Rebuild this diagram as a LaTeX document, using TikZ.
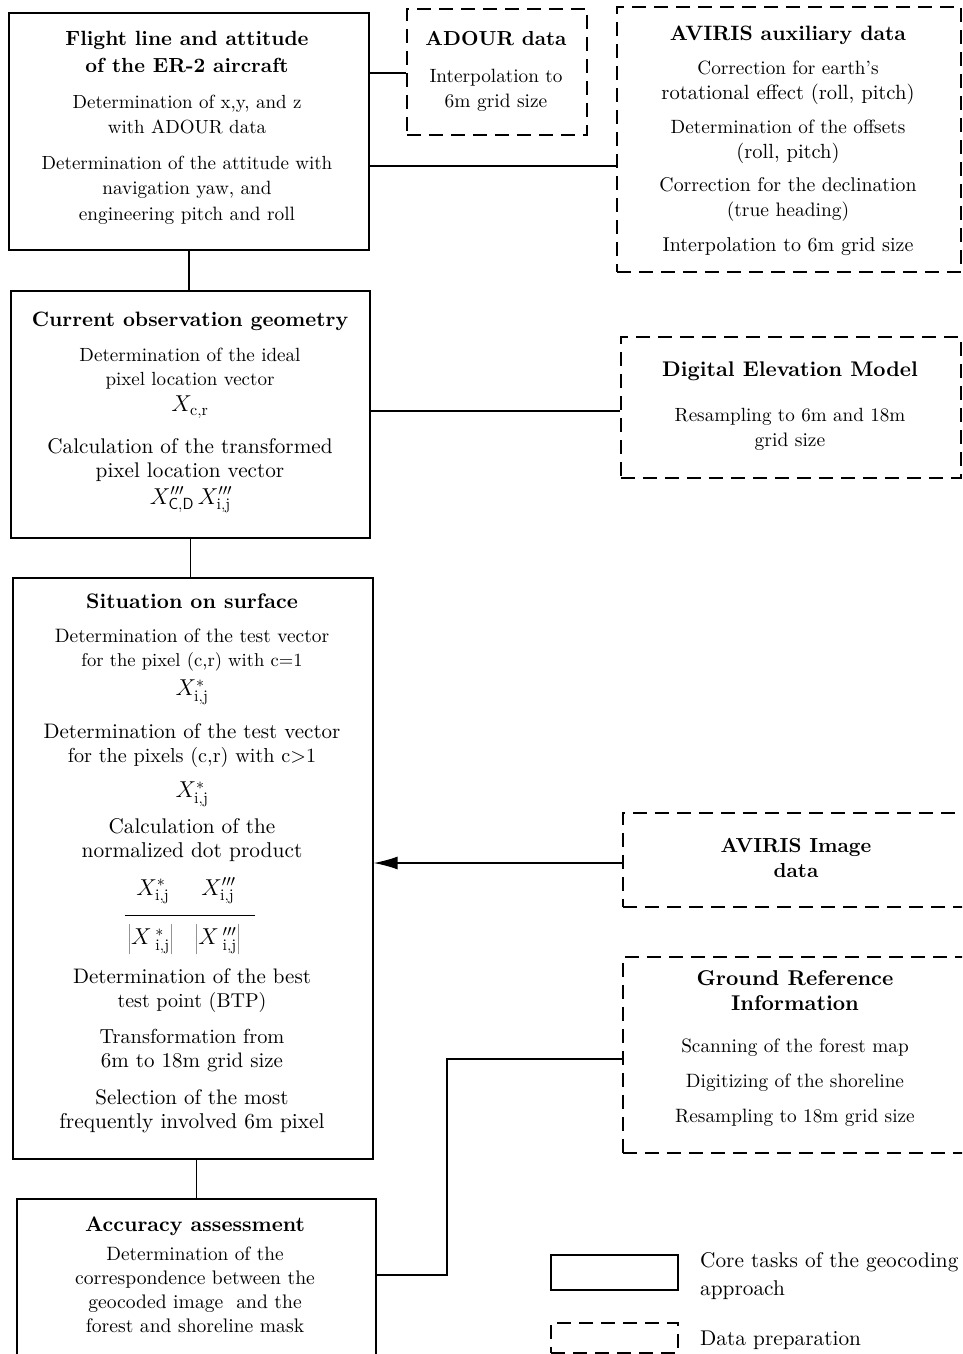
\documentclass[tikz,border=0pt]{standalone}
\usepackage{fix-cm}
\usepackage{fontspec}
\setmainfont{lmroman10-regular.otf}[BoldFont=lmroman10-bold.otf, ItalicFont=lmroman10-italic.otf, BoldItalicFont=lmroman10-bolditalic.otf]
\usetikzlibrary{arrows.meta}
\tikzset{
  core/.style={draw, line width=1.6pt, anchor=north west, inner sep=0pt},
  prep/.style={draw, line width=1.6pt, dash pattern=on 14pt off 8pt, anchor=north west, inner sep=0pt},
  conn/.style={line width=1.4pt},
  body/.style={inner sep=0pt, text height=13pt, text depth=4pt},
  head/.style={font=\bfseries, inner sep=0pt, text height=14.5pt, text depth=4.5pt},
  frm/.style={font=\fontsize{23}{27}\selectfont, inner sep=0pt},
  legtxt/.style={font=\fontsize{21.3}{25}\selectfont, inner sep=0pt, anchor=west, text height=14pt, text depth=4pt},
}
\newcommand\mylines[4]{%
  \foreach \yy/\ss/\txt [count=\ii] in {#4} {\node[#3] (#1\ii) at (#2,\yy) {\fontsize{\ss}{\ss}\selectfont\txt};}}
\begin{document}
\begin{tikzpicture}[x=1pt, y=-1pt]
\useasboundingbox (0,0) rectangle (962,1354);
\clip (0,0) rectangle (962,1354);

% boxes
\node[core, minimum width=360pt, minimum height=237pt] (b1) at (8,12) {};
\node[prep, minimum width=180pt, minimum height=126pt] (adour) at (406,8) {};
\node[prep, minimum width=344pt, minimum height=265pt] (aux) at (616,6) {};
\node[core, minimum width=359pt, minimum height=247pt] (b2) at (10,290) {};
\node[prep, minimum width=340pt, minimum height=141pt] (dem) at (620,336) {};
\node[core, minimum width=360pt, minimum height=581pt] (b3) at (12,577) {};
\node[prep, minimum width=350pt, minimum height=94pt] (img) at (622,812) {};
\node[prep, minimum width=350pt, minimum height=196pt] (gr) at (622,956) {};
\node[core, minimum width=359pt, minimum height=220pt] (b4) at (16,1198) {};
\node[core, minimum width=127pt, minimum height=35pt] (leg1) at (550,1254) {};
\node[prep, minimum width=127pt, minimum height=30pt] (leg2) at (550,1322) {};

% box 1
\mylines{b1h}{187}{head}{41/20.6/{Flight line and attitude}, 67/20.4/{of the ER-2 aircraft}}
\mylines{b1t}{187}{body}{104/19/{Determination of x,y, and z}, 129/19/{with ADOUR data}, 165/19/{Determination of the attitude with}, 190/19.2/{navigation yaw, and}, 216/19.3/{engineering pitch and roll}}
% ADOUR
\mylines{adh}{496}{head}{41/20.3/{ADOUR data}}
\mylines{adt}{496}{body}{78/19.2/{Interpolation to}, 103/19.4/{6m grid size}}
% AVIRIS auxiliary
\mylines{auh}{788}{head}{36/20.8/{AVIRIS auxiliary data}}
\mylines{aut}{788}{body}{70/19.2/{Correction for earth's}, 95/20.6/{rotational effect (roll, pitch)}, 129/19.2/{Determination of the offsets}, 154/20.5/{(roll, pitch)}, 187/19.8/{Correction for the declination}, 212/19.5/{(true heading)}, 247/20/{Interpolation to 6m grid size}}
% box 2
\mylines{b2h}{190}{head}{321/20.8/{Current observation geometry}}
\mylines{b2t}{190}{body}{357/19.1/{Determination of the ideal}, 381/19/{pixel location vector}, 449/21.2/{Calculation of the transformed}, 473/21.2/{pixel location vector}}
\node[frm] (b2f1) at (190,407) {$X_{\mathrm{c,r}}$};
\node[frm] (b2f2) at (191,500) {$X^{\prime\prime\prime}_{\mathsf{C,D}}\,X^{\prime\prime\prime}_{\mathrm{i,j}}$};
% DEM
\mylines{demh}{790}{head}{371/21.2/{Digital Elevation Model}}
\mylines{demt}{790}{body}{417/19.1/{Resampling to 6m and 18m}, 442/19.5/{grid size}}
% box 3
\mylines{b3h}{192}{head}{603/21/{Situation on surface}}
\mylines{b3t}{192}{body}{638/19.4/{Determination of the test vector}, 662/18.6/{for the pixel (c,r) with c=1}, 734/21/{Determination of the test vector}, 758/20.2/{for the pixels (c,r) with c>1}, 829/21.2/{Calculation of the}, 853/21.4/{normalized dot product}, 979/21/{Determination of the best}, 1003/20/{test point (BTP)}, 1039/20.3/{Transformation from}, 1063/21/{6m to 18m grid size}, 1100/21/{Selection of the most}, 1124/21.4/{frequently involved 6m pixel}}
\node[frm] (b3f1) at (192,692) {$X^{*}_{\mathrm{i,j}}$};
\node[frm] (b3f2) at (192,794) {$X^{*}_{\mathrm{i,j}}$};
\node[frm] (b3num) at (186,891) {$X^{*}_{\mathrm{i,j}}\hspace{32pt}X^{\prime\prime\prime}_{\mathrm{i,j}}$};
\node[frm] (b3den) at (184,939) {$\left|X\,^{*}_{\mathrm{i,j}}\right|\hspace{18pt}\left|X\,^{\prime\prime\prime}_{\mathrm{i,j}}\right|$};
\draw[line width=1pt] (b3den.west |- 0,915) ++(-3,0) -- (255,915);
% AVIRIS image
\mylines{imh}{796}{head}{847/20.3/{AVIRIS Image}, 872/20.3/{data}}
% Ground reference
\mylines{grh}{795}{head}{980/21.4/{Ground Reference}, 1005/21.4/{Information}}
\mylines{grt}{795}{body}{1048/19.3/{Scanning of the forest map}, 1083/19.3/{Digitizing of the shoreline}, 1118/19.3/{Resampling to 18m grid size}}
% box 4
\mylines{b4h}{195}{head}{1226/21/{Accuracy assessment}}
\mylines{b4t}{195}{body}{1256/19.3/{Determination of the}, 1280/19.6/{correspondence between the}, 1304/19.6/{geocoded image \ and the}, 1328/19.6/{forest and shoreline mask}}
% legend
\node[legtxt] (lg1) at (700,1262) {Core tasks of the geocoding};
\node[legtxt] (lg2) at (700,1290) {approach};
\node[legtxt] (lg3) at (700,1340) {Data preparation};

% connectors
\coordinate (bend) at (447,1059);
\draw[conn] (b1.east |- 0,73) -- (adour.west |- 0,73);
\draw[conn] (b1.east |- 0,166) -- (aux.west |- 0,166);
\draw[conn] (b1.south) -- (b1.south |- b2.north);
\draw[conn] (b2.east |- 0,411) -- (dem.west |- 0,411);
\draw[conn] (b2.south) -- (b2.south |- b3.north);
\draw[conn, -{Latex[length=24pt, width=13pt]}] (img.west |- 0,863) -- (b3.east |- 0,863);
\draw[conn] (gr.west |- bend) -- (bend) |- (b4.east |- 0,1275);
\draw[conn] (b4.north) -- (b4.north |- b3.south);
\end{tikzpicture}
\end{document}
